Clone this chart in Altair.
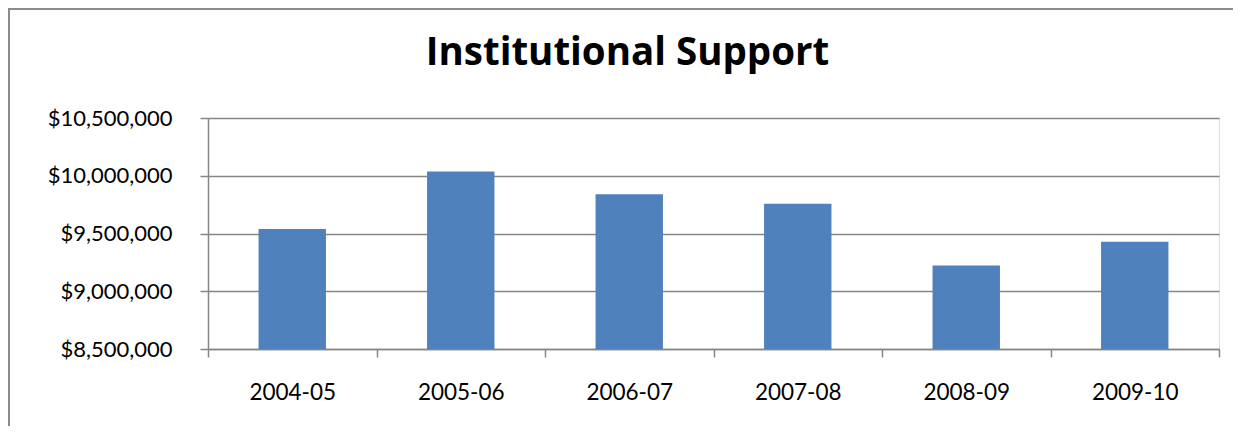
import altair as alt
import pandas as pd

years = ["2004-05", "2005-06", "2006-07", "2007-08", "2008-09", "2009-10"]
support = [9540000, 10036000, 9839000, 9758000, 9222000, 9428000]
y_ticks = [8500000, 9000000, 9500000, 10000000, 10500000]

df = pd.DataFrame({"year": years, "support": support})

FONT = "Lato"
TITLE_FONT = "Open Sans"
GRID = "#868686"

bars = alt.Chart(df).mark_bar(color="#4F81BD").encode(
    x=alt.X(
        "year:N",
        sort=years,
        title=None,
        scale=alt.Scale(paddingInner=0.6, paddingOuter=0.3),
        axis=alt.Axis(
            labelAngle=0,
            labelFontSize=22.5,
            labelFont=FONT,
            labelColor="#000000",
            labelPadding=24,
            bandPosition=2.5,
            tickOffset=-50.5,
            labelOffset=50.5,
            tickExtra=True,
            tickSize=8,
            tickColor=GRID,
            tickWidth=1.5,
            domainColor=GRID,
            domainWidth=1.5,
            grid=False,
        ),
    ),
    y=alt.Y(
        "support:Q",
        title=None,
        scale=alt.Scale(domain=[8500000, 10500000], zero=False, nice=False),
        axis=alt.Axis(
            values=y_ticks,
            format="$,.0f",
            labelFontSize=22,
            labelFont=FONT,
            labelColor="#000000",
            labelPadding=28,
            tickSize=8,
            tickColor=GRID,
            tickWidth=1.5,
            domainColor=GRID,
            domainWidth=1.5,
            gridColor=GRID,
            gridWidth=1.5,
        ),
    ),
    y2=alt.datum(8500000),
)

border = alt.Chart(df).mark_rect(
    fillOpacity=0, stroke="#8C8C8C", strokeWidth=2
).encode(
    x=alt.value(-199),
    x2=alt.value(1300),
    y=alt.value(-109),
    y2=alt.value(500),
)

chart = alt.layer(border, bars).properties(
    width=1011,
    height=231,
    title=alt.TitleParams(
        "Institutional Support",
        font=TITLE_FONT,
        fontSize=38.5,
        fontWeight="bold",
        color="#000000",
        anchor="middle",
        frame="group",
        baseline="alphabetic",
        dx=-86,
        offset=-95,
    ),
    autosize=alt.AutoSizeParams(type="none"),
    padding={"left": 200, "top": 110, "right": 14, "bottom": 77},
).configure_view(stroke=None).configure(background="#FFFFFF")

chart.save("out.html", embed_options={"renderer": "svg", "actions": False})
